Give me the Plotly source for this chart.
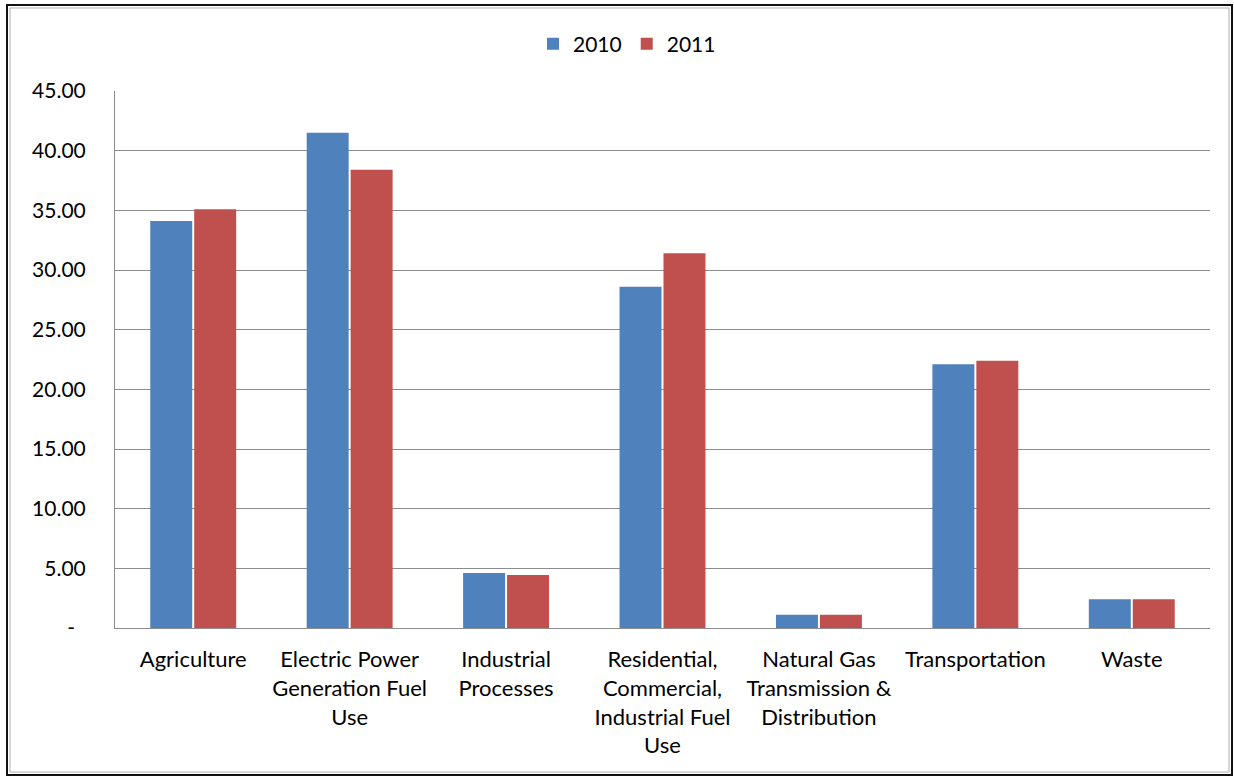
import plotly.graph_objects as go

categories = [
    "Agriculture",
    "Electric Power<br>Generation Fuel<br>Use",
    "Industrial<br>Processes",
    "Residential,<br>Commercial,<br>Industrial Fuel<br>Use",
    "Natural Gas<br>Transmission &<br>Distribution",
    "Transportation",
    "Waste",
]
values_2010 = [34.1, 41.5, 4.6, 28.6, 1.1, 22.1, 2.4]
values_2011 = [35.1, 38.4, 4.45, 31.4, 1.1, 22.4, 2.4]
tick_vals = [0, 5, 10, 15, 20, 25, 30, 35, 40, 45]
tick_text = ["-\u00a0\u00a0", "5.00", "10.00", "15.00", "20.00", "25.00",
             "30.00", "35.00", "40.00", "45.00"]

W, H = 1234, 776
L, R, T, B = 115, 24, 91, 148
pw, ph = W - L - R, H - T - B

def px_to_paper_x(px):
    return (px - L) / pw

def px_to_paper_y(py):
    return (H - B - py) / ph

FONT = "Lato"
TXT = "#000000"

fig = go.Figure()
fig.add_trace(go.Bar(name="2010", x=categories, y=values_2010,
                     marker=dict(color="#4F81BD", line=dict(width=0))))
fig.add_trace(go.Bar(name="2011", x=categories, y=values_2011,
                     marker=dict(color="#C0504D", line=dict(width=0))))

fig.update_layout(
    width=W, height=H,
    margin=dict(l=L, r=R, t=T, b=B, autoexpand=False),
    paper_bgcolor="white", plot_bgcolor="white",
    barmode="group", bargap=0.438, bargroupgap=0.045,
    font=dict(family=FONT, size=21, color=TXT),
    legend=dict(orientation="h", x=px_to_paper_x(627), xanchor="center",
                y=px_to_paper_y(44), yanchor="middle",
                font=dict(family=FONT, size=21, color=TXT),
                itemwidth=30, tracegroupgap=0),
    xaxis=dict(showgrid=False, showline=True, linecolor="#8c8c8c", linewidth=1,
               ticks="", tickfont=dict(family=FONT, size=22, color=TXT),
               ticklabelstandoff=12, fixedrange=True),
    yaxis=dict(range=[0, 45], tickvals=tick_vals, ticktext=tick_text,
               showgrid=True, gridcolor="#8c8c8c", gridwidth=1,
               showline=True, linecolor="#8c8c8c", linewidth=1,
               zeroline=False, ticks="",
               tickfont=dict(family=FONT, size=21, color=TXT),
               ticklabelstandoff=24, fixedrange=True),
    showlegend=True,
)

# outer frame of the picture
fig.add_shape(type="rect", xref="paper", yref="paper",
              x0=px_to_paper_x(7), x1=px_to_paper_x(1232),
              y0=px_to_paper_y(775), y1=px_to_paper_y(5),
              line=dict(color="#111111", width=2), layer="above")
fig.add_shape(type="rect", xref="paper", yref="paper",
              x0=px_to_paper_x(10), x1=px_to_paper_x(1229),
              y0=px_to_paper_y(772), y1=px_to_paper_y(8),
              line=dict(color="#b0b0b0", width=1), layer="above")

fig.write_html("out.html")
